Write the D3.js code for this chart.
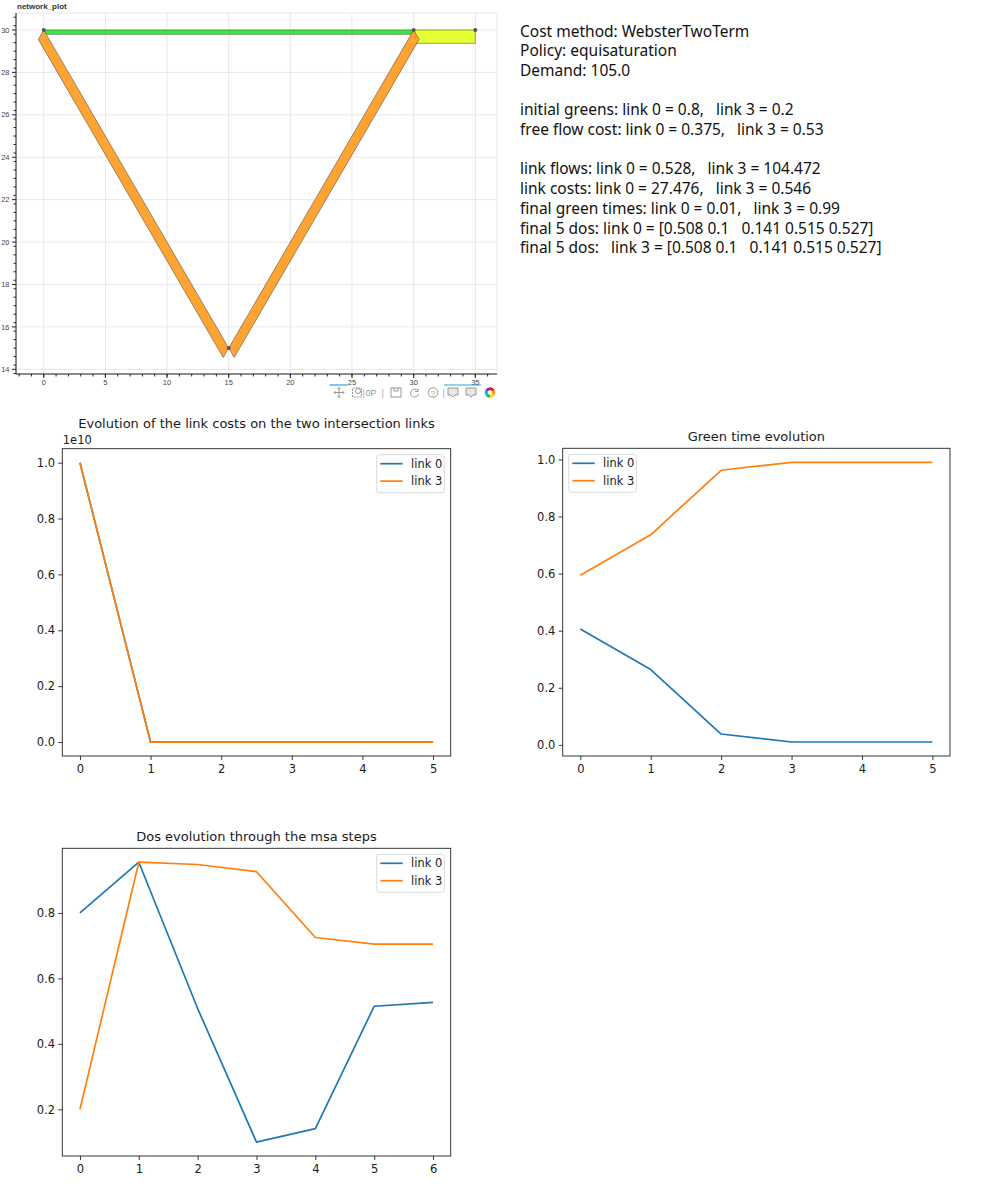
<!DOCTYPE html>
<html><head><meta charset="utf-8">
<script src="https://cdn.jsdelivr.net/npm/d3@7"></script>
<style>
body{margin:0;background:#fff;}
svg{display:block;}
.mpl text{font-family:"DejaVu Sans",sans-serif;fill:#1a1a1a;}
.net text{font-family:"Liberation Sans",Helvetica,sans-serif;fill:#444;}
.info text{font-family:"Noto Sans",sans-serif;font-size:15.5px;fill:#111;white-space:pre;}
</style></head><body>
<svg id="c" width="1000" height="1200"></svg>
<script>
// ---------- data ----------
const nodeX = [0, 15, 30, 35];
const nodeY = [30, 15, 30, 30];
const linkSource = [0, 0, 1, 2];
const linkTarget = [2, 1, 2, 3];
const linkFlow = [0.528, 104.472, 104.472, 105.0];
const networkXTicks = [0, 5, 10, 15, 20, 25, 30, 35];
const networkYTicks = [14, 16, 18, 20, 22, 24, 26, 28, 30];

const infoLines = [
  "Cost method: WebsterTwoTerm",
  "Policy: equisaturation",
  "Demand: 105.0",
  "",
  "initial greens: link 0 = 0.8,   link 3 = 0.2",
  "free flow cost: link 0 = 0.375,   link 3 = 0.53",
  "",
  "link flows: link 0 = 0.528,   link 3 = 104.472",
  "link costs: link 0 = 27.476,   link 3 = 0.546",
  "final green times: link 0 = 0.01,   link 3 = 0.99",
  "final 5 dos: link 0 = [0.508 0.1   0.141 0.515 0.527]",
  "final 5 dos:   link 3 = [0.508 0.1   0.141 0.515 0.527]"
];

const seriesNames = ["link 0", "link 3"];
const steps6 = [0, 1, 2, 3, 4, 5];
const costLink0 = [1e10, 28.0, 27.6, 27.5, 27.5, 27.476];
const costLink3 = [1e10, 0.6, 0.55, 0.55, 0.546, 0.546];
const greenLink0 = [0.406, 0.264, 0.038, 0.01, 0.01, 0.01];
const greenLink3 = [0.594, 0.736, 0.962, 0.99, 0.99, 0.99];
const steps7 = [0, 1, 2, 3, 4, 5, 6];
const dosLink0 = [0.8, 0.955, 0.508, 0.1, 0.141, 0.515, 0.527];
const dosLink3 = [0.2, 0.955, 0.948, 0.926, 0.725, 0.705, 0.705];
const costYTicks = [0, 0.2e10, 0.4e10, 0.6e10, 0.8e10, 1.0e10];
const greenYTicks = [0, 0.2, 0.4, 0.6, 0.8, 1.0];
const dosYTicks = [0.2, 0.4, 0.6, 0.8];

// ---------- network plot ----------
const svg = d3.select("#c");
const net = svg.append("g").attr("class", "net");
const xN = d3.scaleLinear().domain([-2.25, 36.76]).range([16, 497]);
const yN = d3.scaleLinear().domain([13.78, 30.8]).range([374, 13]);
const widthScale = d3.scaleLinear().domain([0, 105]).range([0.2, 0.63]);
const linkColors = ["#3aec3a", "#ffa433", "#ffa433", "#e6ff33"];

net.append("rect").attr("x", xN.range()[0]).attr("y", yN.range()[1])
  .attr("width", xN.range()[1] - xN.range()[0]).attr("height", yN.range()[0] - yN.range()[1])
  .attr("fill", "none").attr("stroke", "#e8e8e8");
net.selectAll(".gx").data(networkXTicks).join("line")
  .attr("x1", d => xN(d)).attr("x2", d => xN(d)).attr("y1", yN.range()[1]).attr("y2", yN.range()[0])
  .attr("stroke", "#e8e8e8");
net.selectAll(".gy").data(networkYTicks).join("line")
  .attr("y1", d => yN(d)).attr("y2", d => yN(d)).attr("x1", xN.range()[0]).attr("x2", xN.range()[1])
  .attr("stroke", "#e8e8e8");

// links as offset bands
const linkOrder = [0, 3, 1, 2];
linkOrder.forEach(i => {
  const s = linkSource[i], t = linkTarget[i];
  const sx = nodeX[s], sy = nodeY[s], tx = nodeX[t], ty = nodeY[t];
  const dx = tx - sx, dy = ty - sy, len = Math.hypot(dx, dy);
  const w = widthScale(linkFlow[i]);
  const nx = dy / len * w, ny = -dx / len * w;
  const pts = [[sx, sy], [tx, ty], [tx + nx, ty + ny], [sx + nx, sy + ny]];
  net.append("polygon")
    .attr("points", pts.map(p => xN(p[0]) + "," + yN(p[1])).join(" "))
    .attr("fill", linkColors[i]).attr("stroke", "#333").attr("stroke-width", 0.6).attr("stroke-opacity", 0.8);
});
net.selectAll(".node").data(nodeX).join("circle")
  .attr("cx", (d) => xN(d)).attr("cy", (d, i) => yN(nodeY[i])).attr("r", 2)
  .attr("fill", "#555");

// axes
const axL = net.append("g");
axL.append("line").attr("x1", 16).attr("x2", 16).attr("y1", yN.range()[1]).attr("y2", yN.range()[0]).attr("stroke", "#222");
const yMinor = d3.range(13.8, 30.81, 0.4).map(v => +v.toFixed(1));
axL.selectAll(".ym").data(yMinor).join("line")
  .attr("x1", 16).attr("x2", 13.5).attr("y1", d => yN(d)).attr("y2", d => yN(d)).attr("stroke", "#222");
axL.selectAll(".yM").data(networkYTicks).join("line")
  .attr("x1", 16).attr("x2", 12).attr("y1", d => yN(d)).attr("y2", d => yN(d)).attr("stroke", "#222");
axL.selectAll(".yl").data(networkYTicks).join("text")
  .attr("x", 9.5).attr("y", d => yN(d) + 2.6).attr("text-anchor", "end").attr("font-size", 7.5).text(d => d);

const axB = net.append("g");
axB.append("line").attr("x1", xN.range()[0]).attr("x2", xN.range()[1]).attr("y1", 374).attr("y2", 374).attr("stroke", "#222");
axB.selectAll(".xm").data(d3.range(-2, 37)).join("line")
  .attr("x1", d => xN(d)).attr("x2", d => xN(d)).attr("y1", 374).attr("y2", 376.5).attr("stroke", "#222");
axB.selectAll(".xM").data(networkXTicks).join("line")
  .attr("x1", d => xN(d)).attr("x2", d => xN(d)).attr("y1", 374).attr("y2", 378).attr("stroke", "#222");
axB.selectAll(".xl").data(networkXTicks).join("text")
  .attr("x", d => xN(d)).attr("y", 384.5).attr("text-anchor", "middle").attr("font-size", 7.5).text(d => d);

net.append("text").attr("x", 17).attr("y", 9).attr("font-size", 8).attr("font-weight", "bold")
  .style("fill", "#333").text("network_plot");

// toolbar
const tb = net.append("g").attr("stroke", "#999").attr("fill", "none").attr("stroke-width", 1);
tb.append("line").attr("x1", 329.5).attr("x2", 347.5).attr("y1", 385).attr("y2", 385).attr("stroke", "#26aae1").attr("stroke-width", 1.2);
tb.append("line").attr("x1", 444).attr("x2", 481).attr("y1", 385).attr("y2", 385).attr("stroke", "#26aae1").attr("stroke-width", 1.2);
// pan
tb.append("path").attr("d", "M334,392.5h10M339,387.5v10M335.5,391l-1.5,1.5l1.5,1.5M342.5,391l1.5,1.5l-1.5,1.5M337.5,389l1.5,-1.5l1.5,1.5M337.5,396l1.5,1.5l1.5,-1.5");
// box zoom
tb.append("rect").attr("x", 352.5).attr("y", 388).attr("width", 9).attr("height", 9).attr("stroke-dasharray", "2,1");
tb.append("circle").attr("cx", 358).attr("cy", 391).attr("r", 2.5);
tb.append("text").attr("x", 362.5).attr("y", 395.5).attr("font-size", 9).attr("stroke", "none").style("fill", "#aaa").text("|");
tb.append("text").attr("x", 365.5).attr("y", 395.8).attr("font-size", 9).attr("stroke", "none").style("fill", "#999").text("0P");
tb.append("text").attr("x", 381.5).attr("y", 395.5).attr("font-size", 9).attr("stroke", "none").style("fill", "#aaa").text("|");
// save
tb.append("rect").attr("x", 391).attr("y", 388).attr("width", 10).attr("height", 9);
tb.append("path").attr("d", "M394,388v3h4v-3");
// reset
tb.append("path").attr("d", "M418,391a4,4 0 1 0 0.5,3M418,388.5v3h-3");
// help
tb.append("circle").attr("cx", 433).attr("cy", 392.5).attr("r", 4.8);
tb.append("text").attr("x", 433).attr("y", 395.5).attr("font-size", 7.5).attr("text-anchor", "middle").attr("stroke", "none").style("fill", "#999").text("?");
tb.append("text").attr("x", 442.5).attr("y", 395.5).attr("font-size", 9).attr("stroke", "none").style("fill", "#aaa").text("|");
// hover icons
[453, 471].forEach(cx => {
  tb.append("path").attr("d", `M${cx - 5},388h10v7h-3l-2,2l-2,-2h-3z`).attr("fill", "#e6e6e6");
});
// logo
const logoColors = ["#e31b23", "#f7941d", "#ffde17", "#39b54a", "#00aeef", "#92278f"];
const arc = d3.arc().innerRadius(2.3).outerRadius(5.3);
const pie = d3.pie().value(1).sort(null)(logoColors);
net.append("g").attr("transform", "translate(490,392.5)").selectAll("path").data(pie).join("path")
  .attr("d", arc).attr("fill", (d, i) => logoColors[i]);

// ---------- info text ----------
const info = svg.append("g").attr("class", "info");
info.selectAll("text").data(infoLines).join("text")
  .attr("x", 520).attr("y", (d, i) => 36.5 + i * 19.7).text(d => d);

// ---------- matplotlib-like charts ----------
const C0 = "#1f77b4", C1 = "#ff7f0e";
function mplChart(o) {
  const g = svg.append("g").attr("class", "mpl");
  const x = d3.scaleLinear().domain(o.xd).range([o.l, o.r]);
  const y = d3.scaleLinear().domain(o.yd).range([o.b, o.t]);
  const ax = g.append("g").attr("transform", `translate(0,${o.b})`)
    .call(d3.axisBottom(x).tickValues(o.xs).tickSize(4).tickPadding(4.5).tickFormat(d3.format("d")));
  const ay = g.append("g").attr("transform", `translate(${o.l},0)`)
    .call(d3.axisLeft(y).tickValues(o.yt).tickSize(4).tickPadding(3.3).tickFormat(o.yf));
  [ax, ay].forEach(a => {
    a.select(".domain").remove();
    a.selectAll("line").attr("stroke", "#222").attr("stroke-width", 0.9);
    a.selectAll("text").attr("font-size", 11.5).attr("font-family", "DejaVu Sans").style("fill", "#1a1a1a");
  });
  const line = d3.line().x((d, i) => x(o.xs[i])).y(d => y(d));
  o.series.forEach((s, k) => {
    g.append("path").attr("d", line(s)).attr("fill", "none")
      .attr("stroke", k === 0 ? C0 : C1).attr("stroke-width", 1.7).attr("stroke-linejoin", "round");
  });
  g.append("rect").attr("x", o.l).attr("y", o.t).attr("width", o.r - o.l).attr("height", o.b - o.t)
    .attr("fill", "none").attr("stroke", "#222").attr("stroke-width", 0.9);
  g.append("text").attr("x", (o.l + o.r) / 2).attr("y", o.titleY).attr("text-anchor", "middle")
    .attr("font-size", 13).text(o.title);
  if (o.offset) g.append("text").attr("x", o.l + 0.5).attr("y", o.t - 5).attr("font-size", 11.5).text(o.offset);
  // legend
  const lw = 67.6, lh = 38;
  const lx = o.legend === "right" ? o.r - 6.4 - lw : o.l + 6;
  const ly = o.t + 6;
  const lg = g.append("g");
  lg.append("rect").attr("x", lx).attr("y", ly).attr("width", lw).attr("height", lh).attr("rx", 2.5)
    .attr("fill", "#fff").attr("fill-opacity", 0.8).attr("stroke", "#d6d6d6").attr("stroke-width", 0.9);
  seriesNames.forEach((n, k) => {
    const yy = ly + 9 + k * 17.4;
    lg.append("line").attr("x1", lx + 3.6).attr("x2", lx + 26).attr("y1", yy).attr("y2", yy)
      .attr("stroke", k === 0 ? C0 : C1).attr("stroke-width", 1.7);
    lg.append("text").attr("x", lx + 34.3).attr("y", yy + 4.1).attr("font-size", 11.5).text(n);
  });
}

mplChart({
  l: 62.3, r: 450.7, t: 448.7, b: 756,
  xd: [-0.25, 5.25], yd: [-0.05e10, 1.05e10],
  xs: steps6, yt: costYTicks, yf: d => (d / 1e10).toFixed(1),
  series: [costLink0, costLink3], legend: "right",
  title: "Evolution of the link costs on the two intersection links", titleY: 428.3, offset: "1e10"
});
mplChart({
  l: 562.7, r: 950, t: 448.3, b: 756,
  xd: [-0.25, 5.25], yd: [-0.039, 1.039],
  xs: steps6, yt: greenYTicks, yf: d => d.toFixed(1),
  series: [greenLink0, greenLink3], legend: "left",
  title: "Green time evolution", titleY: 440.5
});
mplChart({
  l: 62.3, r: 450.7, t: 848.3, b: 1156,
  xd: [-0.3, 6.3], yd: [0.0575, 0.9975],
  xs: steps7, yt: dosYTicks, yf: d => d.toFixed(1),
  series: [dosLink0, dosLink3], legend: "right",
  title: "Dos evolution through the msa steps", titleY: 840.5
});
</script>
</body></html>
